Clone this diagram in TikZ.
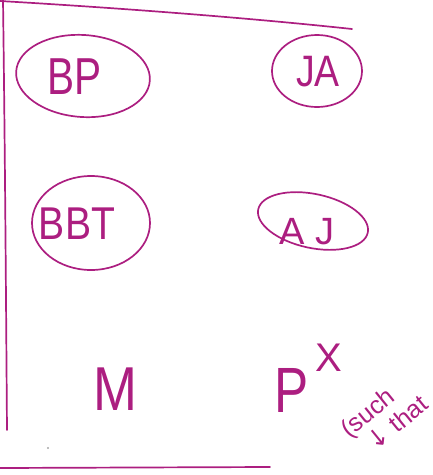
\documentclass[tikz,border=0pt]{standalone}
\usepackage{fontspec}
\setmainfont{Liberation Sans}
\newfontfamily\arrowfont{DejaVu Sans}
\usetikzlibrary{shapes.geometric}
\definecolor{ink}{RGB}{172,30,128}
\tikzset{
  pen/.style={draw=ink, line width=1.7pt, line cap=round, line join=round},
  oval/.style={pen, ellipse, inner sep=0pt},
  hand/.style={text=ink, inner sep=0pt, anchor=center},
}
\begin{document}
\begin{tikzpicture}[x=1pt,y=-1pt]
\useasboundingbox (0,0) rectangle (433,475);
% frame strokes
\draw[pen] (0,1) .. controls (120,8) and (250,18) .. (352,29);
\draw[pen] (3,0) .. controls (5,150) and (6,300) .. (7,430);
\draw[pen] (0,468) -- (270,467);
\fill[gray!70] (48,448) circle (1.2pt);
% ovals
\node[oval, minimum width=134pt, minimum height=82pt, rotate=-4] (bp) at (83,76) {};
\node[oval, minimum width=90pt, minimum height=72pt] (ja) at (317,71) {};
\node[oval, minimum width=118pt, minimum height=94pt] (bbt) at (91,223) {};
\node[oval, minimum width=112pt, minimum height=54pt, rotate=-12] (aj) at (313,221) {};
% labels
\node[hand, font=\fontsize{52}{56}\selectfont, xscale=0.78] (tbp) at (75,77) {BP};
\node[hand, font=\fontsize{44}{48}\selectfont, xscale=0.85] (tja) at (318,72) {JA};
\node[hand, font=\fontsize{46}{50}\selectfont, xscale=0.85] (tbbt) at (77,224) {BBT};
\node[hand, font=\fontsize{38}{42}\selectfont] (taj) at (307,232) {A J};
\node[hand, font=\fontsize{62}{66}\selectfont, xscale=0.85] (tm) at (115,389) {M};
\node[hand, font=\fontsize{64}{68}\selectfont, xscale=0.8] (tp) at (292,390) {P};
\node[hand, font=\fontsize{40}{44}\selectfont] (tx) at (329,358) {X};
\node[hand, font=\fontsize{25}{27}\selectfont, align=left, rotate=39] (note) at (384,416)
  {(such\\\hspace{0.5em}{\arrowfont ↓} that};
\end{tikzpicture}
\end{document}
